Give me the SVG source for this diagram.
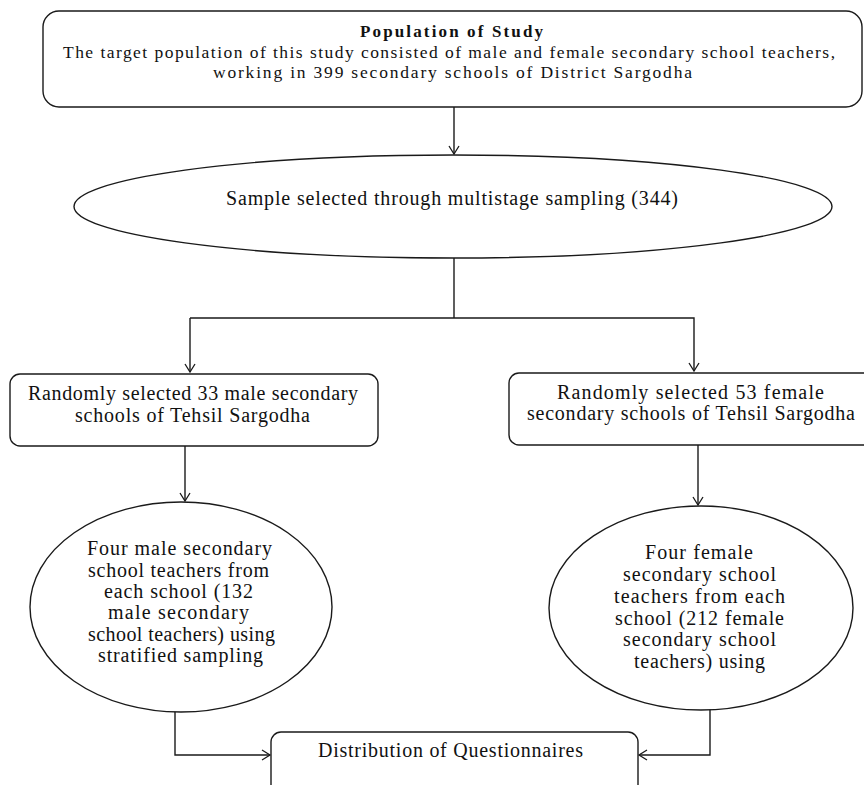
<svg xmlns="http://www.w3.org/2000/svg" width="864" height="785" viewBox="0 0 864 785">
<style>
.s{fill:#fff;stroke:#1a1a1a;stroke-width:1.4}
.c{fill:none;stroke:#1a1a1a;stroke-width:1.4}
text{font-family:"Liberation Serif","Times New Roman",serif;fill:#111;text-anchor:middle}
.t{font-size:17.5px}
.b{font-size:17px;font-weight:bold}
.m{font-size:20px}
</style>
<defs>
<marker id="a" markerWidth="12" markerHeight="12" refX="9" refY="6" orient="auto" markerUnits="userSpaceOnUse">
<path d="M1,1 L9,6 L1,11" fill="none" stroke="#1a1a1a" stroke-width="1.3"/>
</marker>
</defs>
<rect width="864" height="785" fill="#fff"/>
<g id="connectors">
<line class="c" x1="454" y1="107" x2="454" y2="154" marker-end="url(#a)"/>
<polyline class="c" points="454,258 454,318"/>
<polyline class="c" points="190,318 694,318 694,371" marker-end="url(#a)"/>
<line class="c" x1="190" y1="318" x2="190" y2="372" marker-end="url(#a)"/>
<line class="c" x1="185" y1="446" x2="185" y2="501" marker-end="url(#a)"/>
<line class="c" x1="698" y1="445" x2="698" y2="505" marker-end="url(#a)"/>
<polyline class="c" points="175,711 175,755 270,755" marker-end="url(#a)"/>
<polyline class="c" points="710,709 710,755 639,755" marker-end="url(#a)"/>
</g>
<g id="population">
<rect class="s" x="43" y="11" width="819" height="96" rx="16"/>
<text class="b" x="451.5" y="36.5" textLength="183">Population of Study</text>
<text class="t" x="449" y="57.5" textLength="772">The target population of this study consisted of male and female secondary school teachers,</text>
<text class="t" x="452.5" y="77.5" textLength="479">working in 399 secondary schools of District Sargodha</text>
</g>
<g id="sample">
<ellipse class="s" cx="453" cy="206.5" rx="379" ry="51.5"/>
<text class="m" x="452" y="205" textLength="452">Sample selected through multistage sampling (344)</text>
</g>
<g id="male-schools">
<rect class="s" x="10" y="374" width="368" height="72" rx="10"/>
<text class="m" x="193" y="400" textLength="330">Randomly selected 33 male secondary</text>
<text class="m" x="192.5" y="422" textLength="235">schools of Tehsil Sargodha</text>
</g>
<g id="female-schools">
<rect class="s" x="509" y="373" width="370" height="72" rx="10"/>
<text class="m" x="690.5" y="399" textLength="267">Randomly selected 53 female</text>
<text class="m" x="691" y="420" textLength="328">secondary schools of Tehsil Sargodha</text>
</g>
<g id="male-teachers">
<ellipse class="s" cx="181" cy="607" rx="151" ry="105"/>
<text class="m" x="179.5" y="555" textLength="185">Four male secondary</text>
<text class="m" x="178.5" y="577" textLength="181">school teachers from</text>
<text class="m" x="178.5" y="598" textLength="149">each school (132</text>
<text class="m" x="178.5" y="619" textLength="141">male secondary</text>
<text class="m" x="181.5" y="640.5" textLength="187">school teachers) using</text>
<text class="m" x="180.5" y="662" textLength="165">stratified sampling</text>
</g>
<g id="female-teachers">
<ellipse class="s" cx="701" cy="608" rx="152" ry="102"/>
<text class="m" x="699" y="559" textLength="108">Four female</text>
<text class="m" x="699.5" y="581" textLength="153">secondary school</text>
<text class="m" x="699.5" y="603" textLength="171">teachers from each</text>
<text class="m" x="699.5" y="624.5" textLength="169">school (212 female</text>
<text class="m" x="699.5" y="646" textLength="153">secondary school</text>
<text class="m" x="699.5" y="667.5" textLength="131">teachers) using</text>
</g>
<g id="distribution">
<rect class="s" x="271" y="732" width="367" height="80" rx="10"/>
<text class="m" x="450.5" y="757" textLength="265">Distribution of Questionnaires</text>
</g>
</svg>
